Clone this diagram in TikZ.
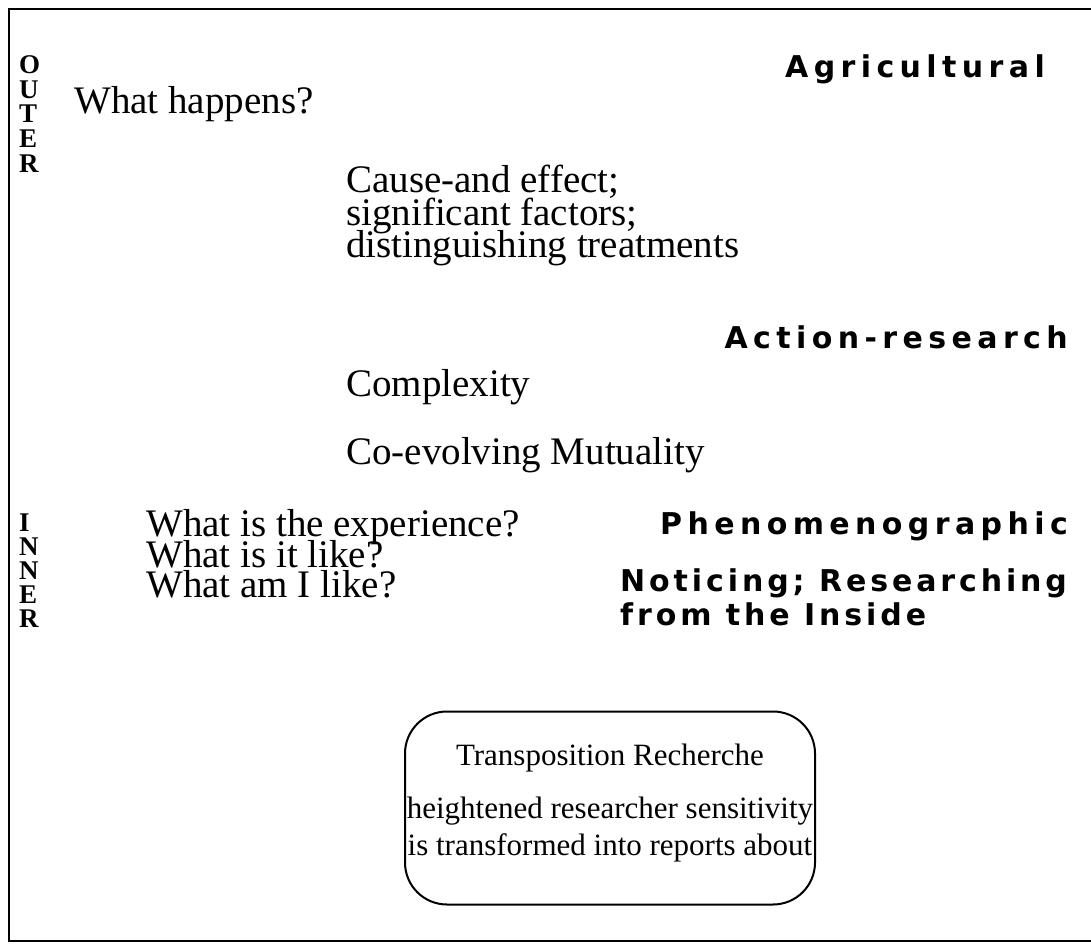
\documentclass[tikz,border=0pt]{standalone}
\usepackage{fontspec}
\setmainfont{Liberation Serif}
\newfontfamily\hdfont[LetterSpace=18]{DejaVu Sans}
\newfontfamily\hdfontb[LetterSpace=13]{DejaVu Sans}
\begin{document}
\begin{tikzpicture}[x=1pt,y=-1pt,
  txt/.style={anchor=base west, inner sep=0pt, font=\fontsize{39}{42}\selectfont},
  boxtxt/.style={anchor=base, inner sep=0pt, font=\fontsize{31}{34}\selectfont},
  hd/.style={anchor=base east, inner sep=0pt, font=\hdfont\bfseries\fontsize{30}{32}\selectfont},
  hdl/.style={anchor=base west, inner sep=0pt, font=\hdfontb\bfseries\fontsize{30}{32}\selectfont},
  side/.style={anchor=base west, inner sep=0pt, font=\bfseries\fontsize{27}{27}\selectfont},
  frame/.style={line width=2.5pt},
  rbox/.style={draw, line width=2pt, rounded corners=42pt, inner sep=0pt}]
\useasboundingbox (0,0) rectangle (1091,944);
\draw[frame] (1095,9) -- (9,9) -- (9,941) -- (1095,941);
% OUTER
\node[side] (o1) at (19,74) {O};
\node[side] (o2) at (19,99) {U};
\node[side] (o3) at (19,123) {T};
\node[side] (o4) at (19,148) {E};
\node[side] (o5) at (19,172) {R};
% INNER
\node[side] (i1) at (19,531) {I};
\node[side] (i2) at (19,555) {N};
\node[side] (i3) at (19,579) {N};
\node[side] (i4) at (19,603) {E};
\node[side] (i5) at (19,627) {R};
% questions
\node[txt] (q1) at (74,114) {What happens?};
\node[txt] (c1) at (346,193) {Cause-and effect;};
\node[txt] (c2) at (346,225) {significant factors;};
\node[txt] (c3) at (346,257) {distinguishing treatments};
\node[txt] (cx) at (346,396) {Complexity};
\node[txt] (cm) at (346,464) {Co-evolving Mutuality};
\node[txt] (w1) at (146,536) {What is the experience?};
\node[txt] (w2) at (146,567) {What is it like?};
\node[txt] (w3) at (146,597) {What am I like?};
% headers
\node[hd] (h1) at (1045,78) {Agricultural};
\node[hd] (h2) at (1068,348) {Action-research};
\node[hd] (h3) at (1068,534) {Phenomenographic};
\node[hdl] (h4) at (620,591) {Noticing; Researching};
\node[hdl] (h5) at (620,625) {from the Inside};
% box
\node[rbox, minimum width=410pt, minimum height=193pt] (box) at (610,808) {};
\node[boxtxt] (b1) at (610,765) {Transposition Recherche};
\node[boxtxt] (b2) at (610,818) {heightened researcher sensitivity};
\node[boxtxt] (b3) at (610,855) {is transformed into reports about};
\end{tikzpicture}
\end{document}
